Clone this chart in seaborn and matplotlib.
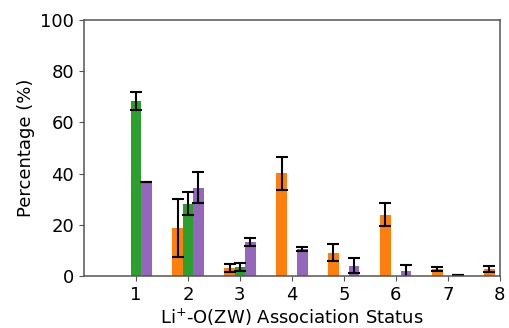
import numpy as np
import pandas as pd
import matplotlib
matplotlib.use("Agg")
import matplotlib.pyplot as plt
import seaborn as sns

status = [1, 2, 3, 4, 5, 6, 7, 8]
series = ["A", "B", "C"]

orange_vals = [0.0, 18.8, 3.1, 40.1, 9.1, 23.9, 2.6, 2.7]
orange_err = [0.0, 11.4, 1.7, 6.4, 3.4, 4.4, 0.9, 1.1]
green_vals = [68.4, 28.1, 3.5, 0.0, 0.0, 0.0, 0.0, 0.0]
green_err = [3.6, 4.5, 1.5, 0.0, 0.0, 0.0, 0.0, 0.0]
purple_vals = [36.8, 34.5, 13.2, 10.4, 4.0, 1.7, 0.3, 0.0]
purple_err = [0.0, 6.1, 1.6, 0.7, 2.8, 2.6, 0.0, 0.0]

colors = ["#ff7f0e", "#2ca02c", "#9467bd"]

df = pd.DataFrame({
    "status": status * 3,
    "series": [s for s in series for _ in status],
    "value": orange_vals + green_vals + purple_vals,
})

fig, ax = plt.subplots(figsize=(5.09, 3.28), dpi=100)
fig.subplots_adjust(left=0.165, right=0.982, top=0.939, bottom=0.159)

sns.barplot(data=df, x="status", y="value", hue="series", palette=colors,
            saturation=1, width=0.6, legend=False, errorbar=None, ax=ax)

idx = np.arange(len(status))
for off, vals, errs in [(-0.2, orange_vals, orange_err),
                        (0.0, green_vals, green_err),
                        (0.2, purple_vals, purple_err)]:
    vals = np.array(vals)
    errs = np.array(errs)
    keep = vals > 0
    ax.errorbar(idx[keep] + off, vals[keep], yerr=errs[keep], fmt="none",
                ecolor="black", elinewidth=1.5, capsize=4, capthick=1.5)

ax.set_xlim(-1, 7)
ax.set_ylim(0, 100)
ax.set_xticks(idx)
ax.set_xticklabels([str(s) for s in status])
ax.set_yticks([0, 20, 40, 60, 80, 100])
ax.tick_params(labelsize=13, color="#555555")
for sp in ax.spines.values():
    sp.set_color("#555555")
    sp.set_linewidth(1.1)
ax.set_xlabel("Li$^{+}$-O(ZW) Association Status", fontsize=13, labelpad=2)
ax.set_ylabel("Percentage (%)", fontsize=13)

plt.savefig("out.png", dpi=100)
